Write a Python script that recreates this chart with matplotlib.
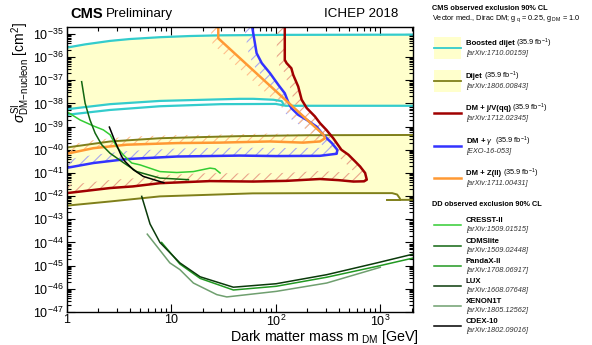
import numpy as np
import matplotlib
matplotlib.use("Agg")
import matplotlib.pyplot as plt
from matplotlib.patches import Polygon, Rectangle
from matplotlib.lines import Line2D
from matplotlib.ticker import LogLocator, NullFormatter, FixedLocator, FixedFormatter

plt.rcParams['font.family'] = ['Liberation Sans', 'DejaVu Sans']
plt.rcParams['mathtext.fontset'] = 'custom'
plt.rcParams['mathtext.rm'] = 'Liberation Sans'
plt.rcParams['mathtext.it'] = 'Liberation Sans:italic'
plt.rcParams['mathtext.bf'] = 'Liberation Sans:bold'
plt.rcParams['hatch.linewidth'] = 0.8

# ---------------- data (mass in GeV, log10 cross section in cm^2) ----------------
boost_top_m = [1, 1.5, 2.6, 4, 7.8, 15, 29, 100, 2070]
boost_top_lx = [-35.59, -35.45, -35.30, -35.22, -35.14, -35.09, -35.06, -35.04, -35.03]
boost_lowA_m = [1, 2.6, 7.8, 45, 61, 95, 114, 118]
boost_lowA_lx = [-38.25, -38.03, -37.89, -37.80, -37.80, -37.84, -37.90, -38.02]
boost_lowB_m = [1, 2.6, 7.8, 30, 100, 125, 2070]
boost_lowB_lx = [-38.49, -38.28, -38.12, -38.03, -38.02, -38.10, -38.10]

dijet_up_m = [1, 2.6, 7.8, 20, 45, 200, 2070]
dijet_up_lx = [-39.90, -39.64, -39.50, -39.45, -39.41, -39.37, -39.36]
dijet_lo_m = [1, 2.6, 7.8, 23.5, 60, 265, 1300, 1450, 1530, 1560, 2070]
dijet_lo_lx = [-42.41, -42.23, -42.01, -41.94, -41.88, -41.87, -41.87, -41.93, -42.08, -42.16, -42.16]
dijet_seg_m = [1150, 1560]
dijet_seg_lx = [-42.16, -42.16]

jv_m = [122, 122, 127, 141, 147, 164, 177, 198, 237, 265, 305, 355, 425, 495, 574, 641,
        716, 743, 700, 553, 400, 265, 127, 61, 23.5, 7.8, 4.3, 2.6, 1]
jv_lx = [-34.6, -36.12, -36.26, -36.48, -36.77, -37.27, -37.84, -38.20, -38.56, -38.85, -39.14,
         -39.50, -40.0, -40.21, -40.50, -40.72, -41.0, -41.29, -41.36, -41.37, -41.31, -41.26,
         -41.34, -41.37, -41.35, -41.44, -41.58, -41.65, -41.87]

gam_m = [59, 65.6, 73.5, 88, 106, 122, 131, 141, 164, 198, 246, 284, 344, 388, 383, 265,
         100, 45, 11.3, 3.75, 1.8, 1]
gam_lx = [-34.6, -35.83, -36.26, -36.69, -37.20, -37.56, -37.92, -38.20, -38.49, -38.71, -39.00,
          -39.35, -39.71, -40.0, -40.17, -40.26, -40.27, -40.25, -40.29, -40.40, -40.57, -40.78]

zll_m = [28.2, 28.2, 286, 296, 265, 183, 88, 29, 11.3, 3.75, 1.8, 1]
zll_lx = [-34.6, -35.19, -39.35, -39.50, -39.64, -39.69, -39.64, -39.69, -39.71, -39.78, -39.93, -40.17]

cresst_m = [1.0, 1.34, 1.80, 2.24, 2.6, 3.0, 3.48, 4.19, 5.03, 7.8, 11.3, 16.3, 23.5, 26.2, 29.3]
cresst_lx = [-38.35, -38.71, -38.97, -39.14, -39.35, -39.86, -40.22, -40.57, -40.65, -40.94,
             -40.98, -40.94, -40.79, -40.82, -41.0]
cdms_m = [1.39, 1.5, 1.67, 1.87, 2.16, 2.6, 3.48, 4.68, 7.8, 14.6]
cdms_lx = [-37.06, -37.99, -38.71, -39.28, -39.78, -40.15, -40.55, -40.94, -41.22, -41.29]
cdex_m = [2.56, 2.9, 3.36, 3.61, 4.34, 5.41, 7.8, 8.5]
cdex_lx = [-39.02, -39.64, -40.29, -40.50, -40.86, -41.15, -41.37, -41.42]
lux_m = [5.22, 6.27, 7.8, 12.1, 18.9, 39.3, 101, 307, 930, 2070]
lux_lx = [-42.01, -43.2, -44.0, -44.88, -45.48, -45.93, -45.78, -45.39, -44.88, -44.5]
panda_m = [8.1, 12.1, 18.9, 39.3, 101, 307, 930, 2070]
panda_lx = [-44.0, -44.93, -45.55, -46.05, -45.89, -45.5, -45.03, -44.67]
xenon_m = [5.9, 9.7, 12.1, 16.3, 27.3, 34, 101, 307, 1000]
xenon_lx = [-43.64, -44.88, -45.17, -45.75, -46.25, -46.35, -46.11, -45.75, -45.07]

xtick_vals = [1, 10, 100, 1000]
xtick_labels = ['1', '10', r'$10^{2}$', r'$10^{3}$']
ytick_exps = list(range(-47, -34))

# ---------------- colours ----------------
C_YEL = '#ffffcc'
C_CYAN = '#33cccc'
C_OLIVE = '#7f7f1a'
C_RED = '#a00000'
C_BLUE = '#3333ff'
C_ORNG = '#ff9933'
C_CRESST = '#33cc33'
C_CDMS = '#116611'
C_PANDA = '#229922'
C_LUX = '#0a3a0a'
C_XENON = '#6f9f6f'
C_CDEX = '#000000'

W, H = 592, 345
fig = plt.figure(figsize=(W / 100, H / 100), dpi=100)
L, R, B, T = 66.7, 413.3, 312, 27
ax = fig.add_axes([L / W, 1 - B / H, (R - L) / W, (B - T) / H])
ax.set_xscale('log')
ax.set_yscale('log')
ax.set_xlim(1, 2070)
ax.set_ylim(1e-47, 10 ** -34.7)


def P(m, lx):
    return np.asarray(m, float), 10.0 ** np.asarray(lx, float)


# yellow fills
bx1, by1 = P(boost_top_m, boost_top_lx)
bxa, bya = P(boost_lowA_m, boost_lowA_lx)
bxb, byb = P(boost_lowB_m, boost_lowB_lx)
selB = bxb >= bxa[-1]
poly_x = np.concatenate([bx1, bxb[selB][::-1], bxa[::-1]])
poly_y = np.concatenate([by1, byb[selB][::-1], bya[::-1]])
ax.fill(poly_x, poly_y, color=C_YEL, lw=0, zorder=1)

dx1, dy1 = P(dijet_up_m, dijet_up_lx)
dx2, dy2 = P(dijet_lo_m, dijet_lo_lx)
ax.fill(np.concatenate([dx1, dx2[::-1]]), np.concatenate([dy1, dy2[::-1]]),
        color=C_YEL, lw=0, zorder=1)


def hatch_band(x, y, width_px, color):
    pts = ax.transData.transform(np.column_stack([x, y]))
    d = np.gradient(pts, axis=0)
    n = np.column_stack([d[:, 1], -d[:, 0]])
    n /= np.linalg.norm(n, axis=1)[:, None]
    off = pts + width_px * n
    poly = np.vstack([pts, off[::-1]])
    data = ax.transData.inverted().transform(poly)
    ax.add_patch(Polygon(data, closed=True, facecolor='none', edgecolor=color,
                         lw=0, hatch='///', zorder=2))


jx, jy = P(jv_m, jv_lx)
gx, gy = P(gam_m, gam_lx)
zx, zy = P(zll_m, zll_lx)
hatch_band(jx, jy, 8, '#e9a58a')
hatch_band(gx, gy, 8, '#a8a8f0')
hatch_band(zx, zy, 8, '#ffbf8a')

# CMS lines
ax.plot(bx1, by1, color=C_CYAN, lw=1.6, zorder=4)
ax.plot(bxa, bya, color=C_CYAN, lw=1.6, zorder=4)
ax.plot(bxb, byb, color=C_CYAN, lw=1.6, zorder=4)
ax.plot(dx1, dy1, color=C_OLIVE, lw=1.4, zorder=4)
ax.plot(dx2, dy2, color=C_OLIVE, lw=1.4, zorder=4)
ax.plot(*P(dijet_seg_m, dijet_seg_lx), color=C_OLIVE, lw=1.4, zorder=4)
ax.plot(jx, jy, color=C_RED, lw=1.8, zorder=5)
ax.plot(gx, gy, color=C_BLUE, lw=1.8, zorder=5)
ax.plot(zx, zy, color=C_ORNG, lw=1.8, zorder=5)

# DD lines
for m, lx, c in [(cresst_m, cresst_lx, C_CRESST), (cdms_m, cdms_lx, C_CDMS),
                 (cdex_m, cdex_lx, C_CDEX), (xenon_m, xenon_lx, C_XENON),
                 (panda_m, panda_lx, C_PANDA), (lux_m, lux_lx, C_LUX)]:
    ax.plot(*P(m, lx), color=c, lw=1.1, zorder=6)

# axes styling
ax.xaxis.set_major_locator(FixedLocator(xtick_vals))
ax.xaxis.set_major_formatter(FixedFormatter(xtick_labels))
ax.xaxis.set_minor_locator(LogLocator(base=10, subs=np.arange(2, 10), numticks=20))
ax.xaxis.set_minor_formatter(NullFormatter())
ax.yaxis.set_major_locator(FixedLocator([10.0 ** e for e in ytick_exps]))
ax.yaxis.set_major_formatter(FixedFormatter([r'$10^{%d}$' % e for e in ytick_exps]))
ax.yaxis.set_minor_locator(LogLocator(base=10, subs=np.arange(2, 10), numticks=30))
ax.yaxis.set_minor_formatter(NullFormatter())
ax.tick_params(which='both', direction='in', top=True, right=True, width=0.8)
ax.tick_params(which='major', length=6, labelsize=9, pad=2.5)
ax.tick_params(axis='x', which='major', pad=1.5)
ax.tick_params(which='minor', length=3)
for s in ax.spines.values():
    s.set_linewidth(1.0)
    s.set_zorder(10)

fig.text(R / W + 0.008, 1 - 341 / H, r'Dark matter mass m$_{\ \mathrm{DM}}$ [GeV]',
         ha='right', va='baseline', fontsize=10.3)
fig.text(21 / W, 1 - 72 / H, r'$\sigma^{\mathrm{SI}}_{\mathrm{DM\!-\!nucleon}}$ [cm$^{2}$]',
         rotation=90, ha='center', va='center', fontsize=10)

fig.canvas.draw()
rend = fig.canvas.get_renderer()
tc = fig.text(70 / W, 1 - 14 / H, 'CMS', fontweight='bold', fontsize=10.5, ha='left', va='center')
bbc = tc.get_window_extent(renderer=rend)
fig.text((bbc.x1 + 3) / W, 1 - 14 / H, 'Preliminary', fontsize=9.6, ha='left', va='center')
fig.text(398 / W, 1 - 14 / H, 'ICHEP 2018', fontsize=9.6, ha='right', va='center')

# ---------------- legend in pixel coords ----------------
lg = fig.add_axes([0, 0, 1, 1], zorder=20)
lg.set_xlim(0, W)
lg.set_ylim(H, 0)
lg.axis('off')
lg.patch.set_alpha(0)


def two_part(x, y, bold, rest, size=5.6):
    t = lg.text(x, y, bold, fontweight='bold', fontsize=size, ha='left', va='center')
    if rest:
        bb = t.get_window_extent(renderer=rend)
        lg.text(x + bb.width + 1.5, y, rest, fontsize=size - 0.3, ha='left', va='center')


lg.text(431.7, 8.5, 'CMS observed exclusion 90% CL', fontweight='bold', fontsize=5.3,
        ha='left', va='center')
lg.text(431.7, 18.5, r'Vector med., Dirac DM; g$_{\ \mathrm{q}}$ = 0.25, g$_{\ \mathrm{DM}}$ = 1.0',
        fontsize=5.3, ha='left', va='center')

lx0, lx1, tx = 434, 460.7, 466
cms_entries = [
    ('Boosted dijet', r'(35.9 fb$^{-1}$)', '[arXiv:1710.00159]', C_CYAN, 48.3, True, 1.3),
    ('Dijet', r'(35.9 fb$^{-1}$)', '[arXiv:1806.00843]', C_OLIVE, 80.7, True, 1.3),
    ('DM + j/V(qq)', r'(35.9 fb$^{-1}$)', '[arXiv:1712.02345]', C_RED, 113.3, False, 1.8),
    (r'DM + $\gamma$', r'(35.9 fb$^{-1}$)', '[EXO-16-053]', C_BLUE, 145.7, False, 1.8),
    ('DM + Z(ll)', r'(35.9 fb$^{-1}$)', '[arXiv:1711.00431]', C_ORNG, 178.3, False, 1.8),
]
for name, lumi, ref, col, yl, box, lw in cms_entries:
    if box:
        lg.add_patch(Rectangle((lx0, yl - 11), lx1 - lx0, 22, facecolor=C_YEL, lw=0))
    lg.add_line(Line2D([lx0, lx1], [yl, yl], color=col, lw=lw))
    two_part(tx, yl - 4.5, name, lumi)
    lg.text(tx, yl + 5.5, ref, fontstyle='italic', fontsize=5.3, color='#333333',
            ha='left', va='center')

lg.text(431.7, 205, 'DD observed exclusion 90% CL', fontweight='bold', fontsize=5.3,
        ha='left', va='center')
dd_entries = [
    ('CRESST-II', '[arXiv:1509.01515]', C_CRESST, 225),
    ('CDMSlite', '[arXiv:1509.02448]', C_CDMS, 245.7),
    ('PandaX-II', '[arXiv:1708.06917]', C_PANDA, 266),
    ('LUX', '[arXiv:1608.07648]', C_LUX, 286),
    ('XENON1T', '[arXiv:1805.12562]', C_XENON, 306),
    ('CDEX-10', '[arXiv:1802.09016]', C_CDEX, 326),
]
for name, ref, col, yl in dd_entries:
    lg.add_line(Line2D([lx0, lx1], [yl, yl], color=col, lw=1.1))
    lg.text(tx, yl - 4.5, name, fontweight='bold', fontsize=5.6, ha='left', va='center')
    lg.text(tx, yl + 4.5, ref, fontstyle='italic', fontsize=5.3, color='#333333',
            ha='left', va='center')

fig.savefig('out.png', dpi=100)
